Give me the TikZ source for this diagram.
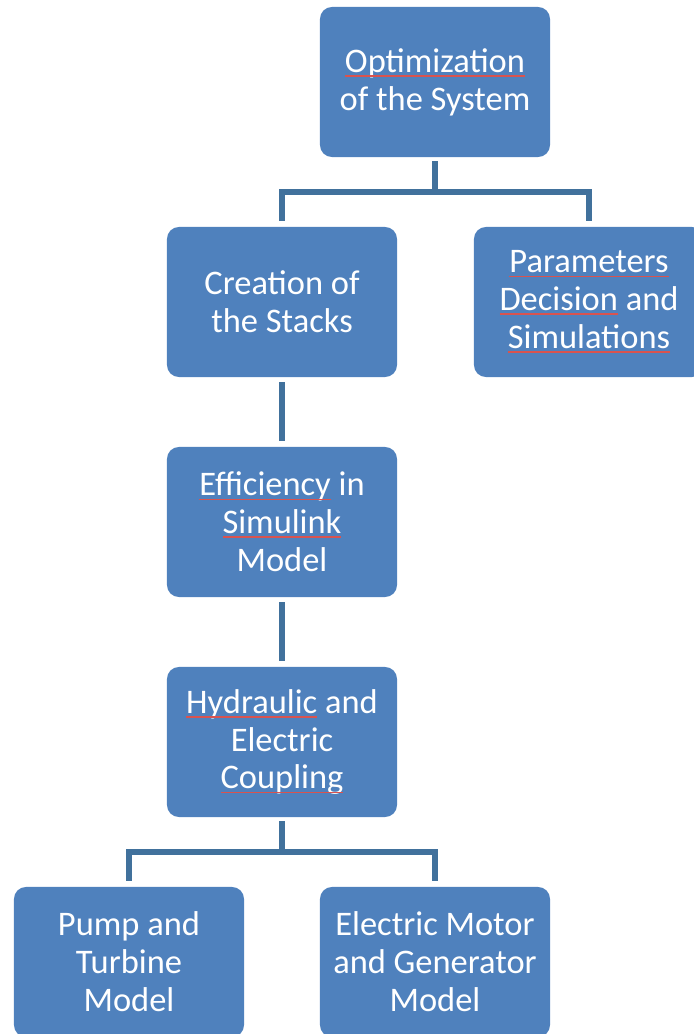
\documentclass[tikz,border=0pt]{standalone}
\usepackage{fontspec}
\setmainfont{Carlito}
\usepackage{tikz}
\definecolor{boxblue}{HTML}{4F81BD}
\definecolor{lineblue}{HTML}{41719C}
\definecolor{spellred}{HTML}{D9534F}
\newcommand{\spell}[1]{\setbox0\hbox{#1}\copy0\llap{\textcolor{spellred}{\rule[-3.2pt]{\wd0}{1.3pt}}}}

\begin{document}
\begin{tikzpicture}[x=0.025cm,y=-0.025cm]
        \tikzstyle{every node} = [rectangle, rounded corners=0.3cm, fill=boxblue, text=white, minimum width=5.75cm, minimum height=3.75cm, align=center, inner sep=0pt, font=\fontsize{24.5}{27}\selectfont]
        \tikzstyle{link} = [draw=lineblue, line width=0.13cm]
        \useasboundingbox (0,0) rectangle (693,1034);
        \node (opt) at (435,82) {\spell{Optimization}\\of the System};
        \node (stacks) at (282,302) {Creation of\\the Stacks};
        \node (params) at (589,302) {\spell{Parameters}\\\spell{Decision} and\\\spell{Simulations}};
        \node (eff) at (282,522) {\spell{Efficiency} in\\\spell{Simulink}\\Model};
        \node (coup) at (282,742) {\spell{Hydraulic} and\\Electric\\\spell{Coupling}};
        \node (pump) at (129,962) {Pump and\\Turbine\\Model};
        \node (motor) at (435,962) {Electric Motor\\and Generator\\Model};
        \coordinate (split1) at (435,192);
        \coordinate (split2) at (282,852);
        \draw[link] ([yshift=-0.1cm]opt.south) -- (split1);
        \draw[link] ([yshift=0.15cm]stacks.north) |- (split1) -| ([yshift=0.15cm]params.north);
        \foreach \from/\to in {stacks/eff, eff/coup}
            \draw[link, shorten <=0.12cm, shorten >=0.15cm] (\from) -- (\to);
        \draw[link] ([yshift=-0.1cm]coup.south) -- (split2);
        \draw[link] ([yshift=0.15cm]pump.north) |- (split2) -| ([yshift=0.15cm]motor.north);
    \end{tikzpicture}
\end{document}
